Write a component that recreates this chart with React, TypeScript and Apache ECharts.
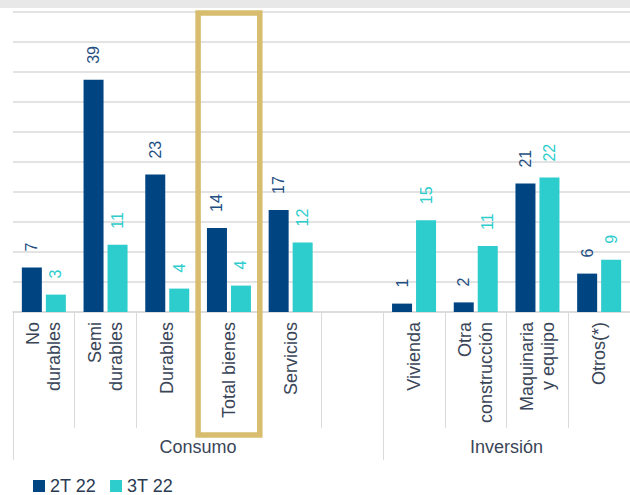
import React, { useEffect, useRef } from "react";
import * as echarts from "echarts";

const categories = [
  "No\ndurables",
  "Semi\ndurables",
  "Durables",
  "Total bienes",
  "Servicios",
  "",
  "Vivienda",
  "Otra\nconstrucción",
  "Maquinaria\ny equipo",
  "Otros(*)",
];
const seriesNames = ["2T 22", "3T 22"];
const values2T = [7.4, 38.7, 22.9, 14.0, 17.0, null, 1.4, 1.6, 21.4, 6.4];
const values3T = [2.9, 11.2, 3.9, 4.4, 11.6, null, 15.3, 11.0, 22.4, 8.7];
const groupNames = ["Consumo", "Inversión"];
const groupBounds = [0, 6, 10];
const groupCenters = [3, 8];
const highlighted = "Total bienes";

const FONT = "'Liberation Sans', Arial, sans-serif";
const DARK = "#004481";
const CYAN = "#2dcccd";
const TEXT = "#3a4558";
const LINE = "#dadada";

export default function App() {
  const ref = useRef<HTMLDivElement>(null);
  useEffect(() => {
    document.body.style.margin = "0";
    const chart = echarts.init(ref.current!, null, { renderer: "svg" });
    const option: any = {
      animation: false,
      textStyle: { fontFamily: FONT },
      grid: { left: 13, right: 0, top: 12, bottom: 183 },
      legend: {
        left: 33,
        top: 477,
        padding: 0,
        icon: "rect",
        itemWidth: 12,
        itemHeight: 12,
        itemGap: 14,
        textStyle: { fontSize: 18, lineHeight: 18, color: "#2a3a52", fontFamily: FONT },
        data: seriesNames,
      },
      xAxis: [
        {
          type: "category",
          data: categories,
          position: "bottom",
          axisLine: { show: true, lineStyle: { color: LINE, width: 1.5 } },
          axisTick: { show: true, interval: 0, length: 116, lineStyle: { color: LINE } },
          axisLabel: {
            interval: 0,
            rotate: 90,
            margin: 10,
            fontSize: 18,
            lineHeight: 21,
            color: TEXT,
            fontFamily: FONT,
          },
          splitLine: { show: false },
        },
        {
          type: "value",
          min: 0,
          max: 10,
          position: "bottom",
          axisLine: { show: false },
          axisTick: {
            show: true,
            customValues: groupBounds,
            length: 148,
            lineStyle: { color: LINE },
          },
          axisLabel: {
            customValues: groupCenters,
            margin: 126,
            fontSize: 18,
            color: TEXT,
            fontFamily: FONT,
            formatter: (v: number) => groupNames[groupCenters.indexOf(v)] ?? "",
          },
          splitLine: { show: false },
        },
      ],
      yAxis: {
        type: "value",
        min: 0,
        max: 50,
        interval: 5,
        axisLabel: { show: false },
        axisLine: { show: false },
        axisTick: { show: false },
        splitLine: { show: true, lineStyle: { color: LINE, width: 1.5 } },
      },
      series: [
        {
          name: seriesNames[0],
          type: "bar",
          xAxisIndex: 0,
          data: values2T,
          barWidth: 20,
          barGap: "20%",
          itemStyle: { color: DARK },
          label: {
            show: true,
            position: "top",
            rotate: 90,
            align: "left",
            verticalAlign: "middle",
            distance: 16,
            fontSize: 16,
            color: "#1f4f82",
            fontFamily: FONT,
            formatter: (p: any) => String(Math.round(p.value)),
          },
        },
        {
          name: seriesNames[1],
          type: "bar",
          xAxisIndex: 0,
          data: values3T,
          barWidth: 20,
          barGap: "20%",
          itemStyle: { color: CYAN },
          label: {
            show: true,
            position: "top",
            rotate: 90,
            align: "left",
            verticalAlign: "middle",
            distance: 16,
            fontSize: 16,
            color: CYAN,
            fontFamily: FONT,
            formatter: (p: any) => String(Math.round(p.value)),
          },
        },
      ],
    };
    chart.setOption(option);
    const idx = categories.indexOf(highlighted);
    const cx = chart.convertToPixel({ xAxisIndex: 0 }, categories[idx]) as number;
    const cx2 = chart.convertToPixel({ xAxisIndex: 0 }, categories[idx + 1]) as number;
    const band = cx2 - cx;
    chart.setOption({
      graphic: [
        {
          type: "rect",
          shape: { x: 0, y: 0, width: 630, height: 8 },
          style: { fill: "#e8e8e8" },
          silent: true,
        },
        {
          type: "rect",
          shape: { x: cx - band / 2, y: 13, width: band, height: 422 },
          style: { fill: "none", stroke: "#d8bd6e", lineWidth: 5.5 },
          silent: true,
          z: 100,
        },
      ],
    });
    return () => chart.dispose();
  }, []);
  return <div ref={ref} style={{ width: 630, height: 495 }} />;
}
